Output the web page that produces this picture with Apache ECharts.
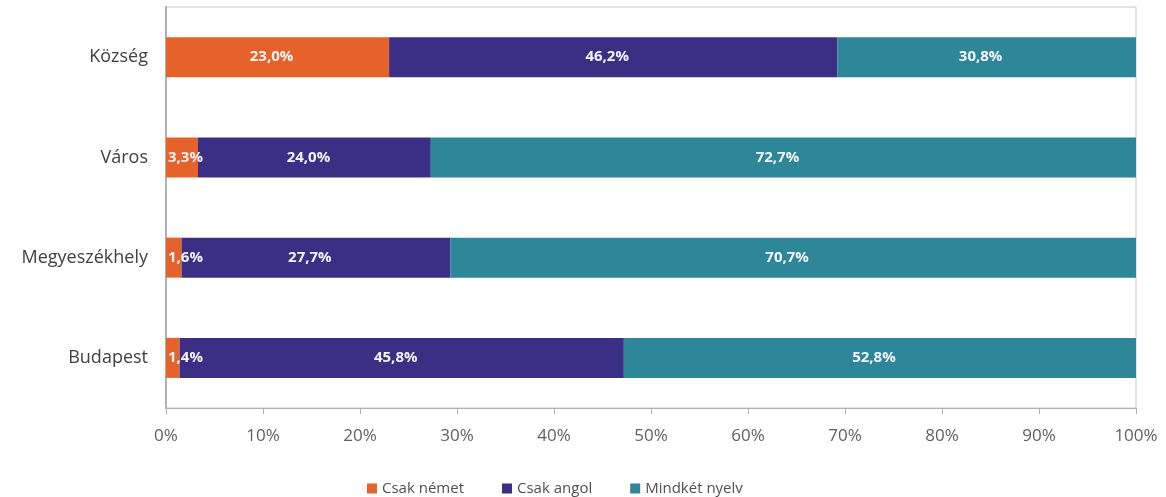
<!DOCTYPE html>
<html>
<head>
<meta charset="utf-8">
<script src="https://cdn.jsdelivr.net/npm/echarts@6/dist/echarts.min.js"></script>
<style>
html,body{margin:0;padding:0;background:#fff;}
#chart{width:1166px;height:497px;}
</style>
</head>
<body>
<div id="chart"></div>
<script>
const categories = ['Község', 'Város', 'Megyeszékhely', 'Budapest'];
const csakNemet = [23.0, 3.3, 1.6, 1.4];
const csakAngol = [46.2, 24.0, 27.7, 45.8];
const mindketNyelv = [30.8, 72.7, 70.7, 52.8];
const xTicks = [0, 10, 20, 30, 40, 50, 60, 70, 80, 90, 100];
const seriesNames = ['Csak német', 'Csak angol', 'Mindkét nyelv'];
const colors = ['#E5622B', '#3A2E85', '#2E8699'];

const fmt = p => p.value.toFixed(1).replace('.', ',') + '%';
const labelStyle = {
  show: true, color: '#f4f4f8', fontFamily: 'Open Sans, sans-serif',
  fontWeight: 'bold', fontSize: 15, formatter: fmt, offset: [-6, 0]
};

function mkData(arr, smallLeft) {
  return arr.map(v => {
    if (smallLeft && v < 5) {
      return { value: v, label: { position: 'insideLeft', distance: 2, offset: [0, 0] } };
    }
    return { value: v };
  });
}

const chart = echarts.init(document.getElementById('chart'));
chart.setOption({
  animation: false,
  color: colors,
  grid: {
    left: 166, right: 30, top: 7, bottom: 89,
    show: true, borderColor: '#c8c8c8', borderWidth: 1
  },
  legend: {
    top: 476, left: 362,
    itemWidth: 10, itemHeight: 10, itemGap: 38,
    icon: 'rect',
    textStyle: { fontFamily: 'Open Sans, sans-serif', fontSize: 15, color: '#505050' },
    data: seriesNames
  },
  xAxis: {
    type: 'value', min: 0, max: 100, interval: 10,
    axisLine: { show: true, lineStyle: { color: '#b0b0b0' } },
    axisTick: { show: true, length: 6, lineStyle: { color: '#b0b0b0' } },
    splitLine: { show: false },
    axisLabel: {
      formatter: v => xTicks.includes(v) ? v + '%' : '',
      fontFamily: 'Open Sans, sans-serif', fontSize: 17, color: '#606060', margin: 20
    }
  },
  yAxis: {
    type: 'category', data: categories, inverse: true,
    axisLine: { show: true, lineStyle: { color: '#b0b0b0', width: 2 } },
    axisTick: { show: false },
    axisLabel: {
      fontFamily: 'Open Sans, sans-serif', fontSize: 18, color: '#404040', margin: 18
    }
  },
  series: [
    { name: seriesNames[0], type: 'bar', stack: 'a', barWidth: 40, data: mkData(csakNemet, true), label: labelStyle },
    { name: seriesNames[1], type: 'bar', stack: 'a', barWidth: 40, data: mkData(csakAngol, false), label: labelStyle },
    { name: seriesNames[2], type: 'bar', stack: 'a', barWidth: 40, data: mkData(mindketNyelv, false), label: labelStyle }
  ]
});
</script>
</body>
</html>
